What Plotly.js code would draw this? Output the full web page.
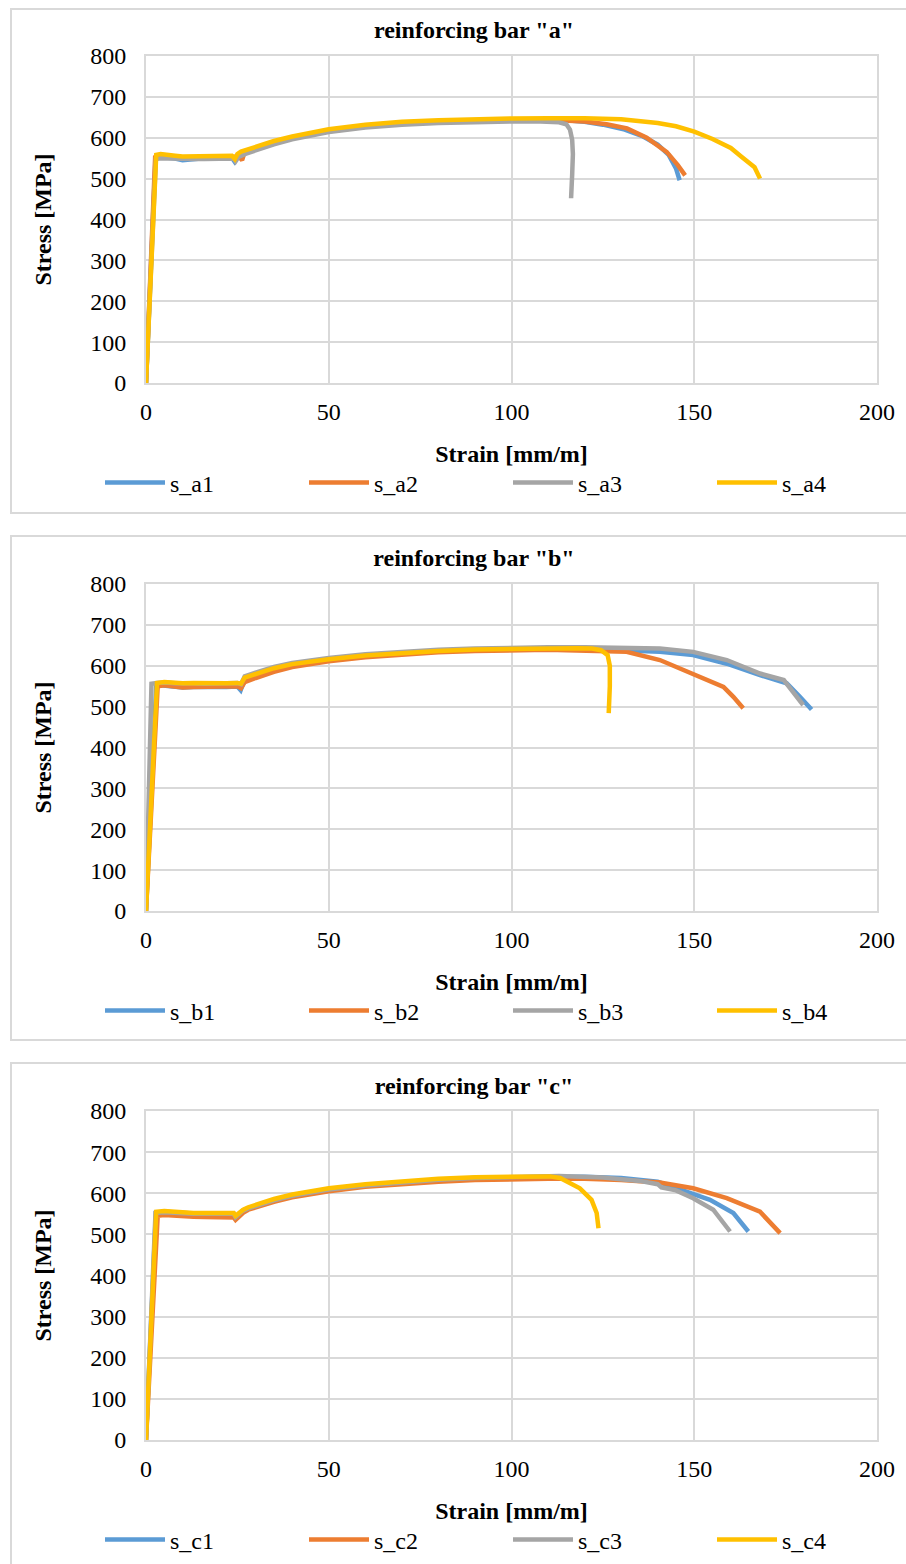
<!DOCTYPE html>
<html>
<head>
<meta charset="utf-8">
<script src="https://cdn.plot.ly/plotly-3.0.1.min.js"></script>
<style>
  html, body { margin:0; padding:0; background:#fff; width:906px; height:1564px; overflow:hidden; }
  .frame { position:absolute; left:10px; width:930px; height:506px; border:2px solid #d9d9d9; box-sizing:border-box; }
  .plot { position:absolute; left:0; width:930px; height:527px; }
</style>
</head>
<body>
<div class="frame" style="top:8px"></div>
<div class="frame" style="top:535px"></div>
<div class="frame" style="top:1062px"></div>
<div id="pa" class="plot" style="top:0px"></div>
<div id="pb" class="plot" style="top:527px"></div>
<div id="pc" class="plot" style="top:1054px"></div>
<script>
// ---------- data: reinforcing bar "a" ----------
const s_a1_strain = [0, 2.6, 4, 6, 8, 10, 12, 15, 18, 21, 23.5, 24.2, 25, 27, 30, 35, 40, 45, 50, 60, 70, 80, 90, 100, 110, 115, 120, 125, 131, 136, 140, 143, 145, 146];
const s_a1_stress = [0, 550, 553, 552, 549, 545, 547, 549, 550, 551, 551, 542, 555, 563, 573, 588, 600, 609, 617, 628, 635, 640, 643, 644, 644, 643, 639, 632, 620, 603, 583, 558, 525, 496];
const s_a2_strain = [0, 2.5, 4, 6, 8, 10, 13, 16, 19, 22, 24, 25.5, 26.3, 26.8, 28, 30, 35, 40, 45, 50, 60, 70, 80, 90, 100, 110, 115, 120, 126, 131.6, 137, 142.5, 145.5, 147.5];
const s_a2_stress = [0, 552, 555, 554, 552, 550, 551, 551, 552, 553, 553, 554, 545, 560, 566, 572, 587, 599, 608, 616, 627, 635, 640, 643, 644, 644, 643, 640, 633, 623, 600, 565, 533, 508];
const s_a3_strain = [0, 2.7, 4, 6, 8, 10, 13, 16, 19, 22, 24, 24.5, 25.3, 27, 30, 35, 40, 45, 50, 60, 70, 80, 90, 100, 108, 113, 115, 116, 116.6, 116.8, 116.6, 116.3];
const s_a3_stress = [0, 548, 550, 549, 548, 547, 548, 548, 548, 549, 549, 542, 553, 560, 569, 584, 596, 606, 614, 625, 632, 636, 639, 640, 640, 638, 633, 620, 595, 560, 510, 452];
const s_a4_strain = [0, 2.8, 4, 6, 8, 10, 13, 16, 19, 22, 23.5, 24.3, 25, 26, 28, 30, 35, 40, 45, 50, 60, 70, 80, 90, 100, 110, 120, 130, 136, 140, 145, 150, 155, 160, 163, 166.5, 168];
const s_a4_stress = [0, 558, 560, 559, 556, 554, 555, 554, 555, 556, 556, 548, 560, 566, 572, 578, 592, 603, 613, 621, 632, 639, 643, 646, 647, 648, 648, 645, 641, 636, 628, 615, 597, 575, 553, 528, 500];

// ---------- data: reinforcing bar "b" ----------
const s_b1_strain = [0, 2.8, 4, 6, 8, 10, 13, 16, 19, 22, 25, 25.9, 27, 30, 35, 40, 45, 50, 60, 70, 80, 90, 100, 110, 120, 130, 140.6, 149.7, 158.9, 168, 175.3, 178.9, 182.1];
const s_b1_stress = [0, 552, 552, 550, 548, 547, 548, 547, 548, 548, 549, 540, 566, 576, 590, 601, 609, 615, 624, 631, 636, 639, 641, 642, 641, 638, 634, 626, 605, 577, 557, 524, 493];
const s_b2_strain = [0, 3.2, 5, 8, 10, 13, 16, 19, 22, 25, 26, 27, 30, 35, 40, 45, 50, 60, 70, 80, 90, 100, 110, 115, 125, 131.5, 140.6, 149.7, 158, 160.7, 163.4];
const s_b2_stress = [0, 550, 552, 549, 547, 548, 548, 548, 549, 550, 545, 560, 570, 585, 597, 605, 611, 621, 628, 633, 636, 638, 639, 638, 636, 634, 614, 581, 548, 524, 496];
const s_b3_strain = [0, 1.5, 3, 5, 8, 10, 13, 16, 19, 22, 25, 26, 27, 30, 35, 40, 45, 50, 60, 70, 80, 90, 100, 110, 120, 130, 140.6, 149.7, 158.9, 168, 174.5, 177, 179.8];
const s_b3_stress = [0, 556, 558, 559, 557, 556, 557, 556, 557, 557, 558, 555, 574, 583, 597, 607, 614, 619, 628, 634, 639, 642, 644, 645, 645, 644, 642, 634, 614, 581, 565, 536, 504];
const s_b4_strain = [0, 3, 5, 8, 10, 13, 16, 19, 22, 25, 26, 27, 30, 35, 40, 45, 50, 60, 70, 80, 90, 100, 110, 118, 122, 124.5, 126.3, 126.9, 126.9, 126.6];
const s_b4_stress = [0, 558, 560, 558, 557, 558, 557, 558, 557, 558, 556, 571, 580, 594, 604, 611, 616, 625, 631, 636, 640, 642, 643, 643, 642, 638, 626, 600, 550, 484];

// ---------- data: reinforcing bar "c" ----------
const s_c1_strain = [0, 2.7, 5, 8, 10, 13, 16, 19, 22, 24, 24.6, 26.5, 28, 30, 35, 40, 45, 50, 60, 70, 80, 90, 100, 110, 120, 130, 140, 145.2, 154.3, 160.7, 164.8];
const s_c1_stress = [0, 553, 555, 553, 551, 551, 550, 550, 551, 551, 543, 558, 564, 570, 584, 595, 603, 610, 620, 627, 633, 637, 639, 640, 640, 637, 628, 612, 584, 552, 507];
const s_c2_strain = [0, 3.2, 5, 8, 10, 13, 16, 19, 22, 24, 24.5, 26.8, 28, 30, 35, 40, 45, 50, 60, 70, 80, 90, 100, 110, 120, 130, 140.6, 149.7, 158.9, 168, 173.5];
const s_c2_stress = [0, 545, 547, 545, 543, 543, 542, 542, 541, 541, 535, 554, 560, 566, 579, 590, 598, 605, 616, 623, 628, 632, 634, 635, 635, 632, 626, 612, 588, 555, 503];
const s_c3_strain = [0, 2.6, 5, 8, 10, 13, 16, 19, 22, 24, 24.5, 26.4, 28, 30, 35, 40, 45, 50, 60, 70, 80, 90, 100, 113, 125, 135, 140, 141, 145, 149.7, 155.2, 159.8];
const s_c3_stress = [0, 552, 554, 552, 550, 550, 550, 549, 550, 550, 542, 557, 563, 569, 583, 594, 602, 609, 619, 627, 633, 637, 639, 642, 638, 630, 622, 614, 607, 588, 560, 507];
const s_c4_strain = [0, 2.8, 5, 8, 10, 13, 16, 19, 22, 24, 24.5, 26.6, 28, 30, 35, 40, 45, 50, 60, 70, 80, 90, 100, 110.5, 113.3, 116, 118.7, 121.9, 123.3, 123.8];
const s_c4_stress = [0, 555, 557, 555, 553, 552, 552, 551, 552, 552, 545, 560, 566, 572, 586, 597, 605, 612, 622, 629, 635, 639, 641, 641, 637, 625, 612, 584, 552, 515];

const colors = ['#5B9BD5', '#ED7D31', '#A5A5A5', '#FFC000'];
const xTicks = [0, 50, 100, 150, 200];
const yTicks = [0, 100, 200, 300, 400, 500, 600, 700, 800];
const FONT = 'Liberation Serif';
const FS = 24;
const W = 930;

function traces(names, xs, ys) {
  return names.map((n, i) => ({
    type: 'scatter', mode: 'lines', name: n, x: xs[i], y: ys[i],
    line: { color: colors[i], width: 4.5 },
    hoverinfo: 'skip'
  }));
}

function layout(letter, t, h, ty) {
  const b = 527 - t - h;
  return {
    width: W, height: 527,
    margin: { l: 146, r: W - 877, t: t, b: b, pad: 0 },
    paper_bgcolor: 'rgba(0,0,0,0)', plot_bgcolor: 'rgba(0,0,0,0)',
    font: { family: FONT, size: FS, color: '#000' },
    showlegend: true,
    title: {
      text: '<b>reinforcing bar "' + letter + '"</b>',
      font: { family: FONT, size: FS, color: '#000' },
      x: 474 / W, xref: 'container', xanchor: 'center',
      y: 1 - ty / 527, yref: 'container', yanchor: 'middle'
    },
    xaxis: {
      range: [0, 200], tickvals: xTicks, ticktext: xTicks.map(String),
      showgrid: true, gridcolor: '#d9d9d9', gridwidth: 2,
      zeroline: false, showline: true, linecolor: '#d9d9d9', linewidth: 2, mirror: true,
      ticks: '', ticklabelstandoff: 6,
      tickfont: { family: FONT, size: FS, color: '#000' },
      title: { text: '<b>Strain [mm/m]</b>', font: { family: FONT, size: FS, color: '#000' }, standoff: 21 },
      fixedrange: true
    },
    yaxis: {
      range: [0, 800], tickvals: yTicks, ticktext: yTicks.map(String),
      showgrid: true, gridcolor: '#d9d9d9', gridwidth: 2,
      zeroline: false, showline: true, linecolor: '#d9d9d9', linewidth: 2, mirror: true,
      ticks: '', ticklabelstandoff: 13,
      tickfont: { family: FONT, size: FS, color: '#000' },
      title: { text: '<b>Stress [MPa]</b>', font: { family: FONT, size: FS, color: '#000' }, standoff: 32 },
      fixedrange: true
    },
    legend: {
      orientation: 'h', x: (100 - 146) / 731, xanchor: 'left',
      y: -100 / h, yanchor: 'middle',
      itemwidth: 60, entrywidth: 129, entrywidthmode: 'pixels',
      font: { family: FONT, size: FS, color: '#000' },
      bgcolor: 'rgba(0,0,0,0)', borderwidth: 0, traceorder: 'normal',
      itemclick: false, itemdoubleclick: false
    }
  };
}

const cfg = { staticPlot: true, displayModeBar: false };
Plotly.newPlot('pa', traces(['s_a1', 's_a2', 's_a3', 's_a4'],
  [s_a1_strain, s_a2_strain, s_a3_strain, s_a4_strain],
  [s_a1_stress, s_a2_stress, s_a3_stress, s_a4_stress]), layout('a', 56, 327, 30), cfg);
Plotly.newPlot('pb', traces(['s_b1', 's_b2', 's_b3', 's_b4'],
  [s_b1_strain, s_b2_strain, s_b3_strain, s_b4_strain],
  [s_b1_stress, s_b2_stress, s_b3_stress, s_b4_stress]), layout('b', 57, 327, 31), cfg);
Plotly.newPlot('pc', traces(['s_c1', 's_c2', 's_c3', 's_c4'],
  [s_c1_strain, s_c2_strain, s_c3_strain, s_c4_strain],
  [s_c1_stress, s_c2_stress, s_c3_stress, s_c4_stress]), layout('c', 57, 329, 32), cfg);
</script>
</body>
</html>
